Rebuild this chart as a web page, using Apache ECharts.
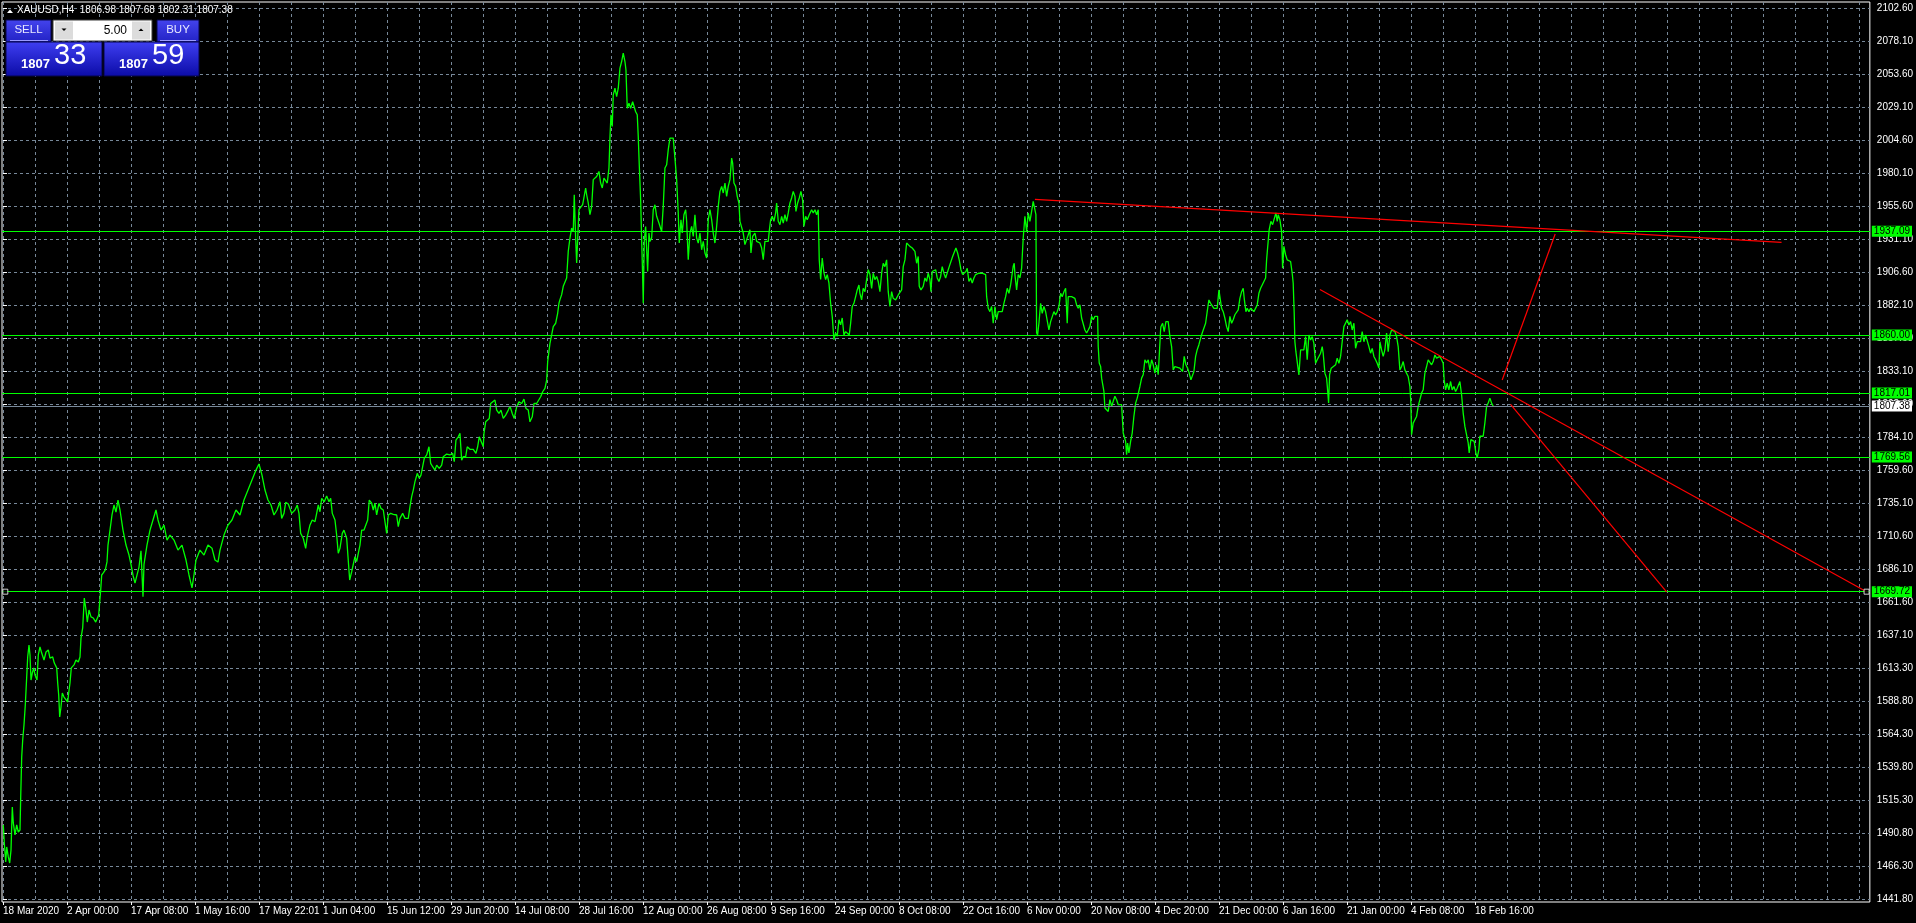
<!DOCTYPE html>
<html><head><meta charset="utf-8">
<script src="https://cdn.jsdelivr.net/npm/echarts@6/dist/echarts.min.js"></script>
<style>html,body{margin:0;padding:0;background:#000;overflow:hidden}#c{width:1916px;height:923px;}</style>
</head><body><div id="c"></div>
<script>
// ---- data ----
const symbolTitle = 'XAUUSD,H4  1806.98 1807.68 1802.31 1807.38';
const timeLabels = ['18 Mar 2020','2 Apr 00:00','17 Apr 08:00','1 May 16:00','17 May 22:01','1 Jun 04:00','15 Jun 12:00','29 Jun 20:00','14 Jul 08:00','28 Jul 16:00','12 Aug 00:00','26 Aug 08:00','9 Sep 16:00','24 Sep 00:00','8 Oct 08:00','22 Oct 16:00','6 Nov 00:00','20 Nov 08:00','4 Dec 20:00','21 Dec 00:00','6 Jan 16:00','21 Jan 00:00','4 Feb 08:00','18 Feb 16:00'];
const timeLabelBars = [0,64,128,192,256,320,384,448,512,576,640,704,768,832,896,960,1024,1088,1152,1216,1280,1344,1408,1472];
const gridBars = [0,32,64,96,128,160,192,224,256,288,320,352,384,416,448,480,512,544,576,608,640,672,704,736,768,800,832,864,896,928,960,992,1024,1056,1088,1120,1152,1184,1216,1248,1280,1312,1344,1376,1408,1440,1472,1504,1536,1568,1600,1632,1664,1696,1728,1760,1792,1824,1856];
const priceTicks = [2102.6,2078.1,2053.6,2029.1,2004.6,1980.1,1955.6,1931.1,1906.6,1882.1,1857.6,1833.1,1808.6,1784.1,1759.6,1735.1,1710.6,1686.1,1661.6,1637.1,1613.3,1588.8,1564.3,1539.8,1515.3,1490.8,1466.3,1441.8];
const priceMin = 1439.58, priceMax = 2107.05;
const barMin = -1, barMax = 1867;

// close prices, [bar, close]
const closeSeries = [
[0.3,1496.7],[1.3,1483.3],[2.7,1469.2],[3.7,1480.4],[5.3,1473],[6.7,1468.5],[8,1478.1],[9.3,1510],[10.3,1498.2],[12,1489.3],[13.7,1496.7],[15.3,1491.5],[17,1493],[17.7,1517.4],[18.7,1547.1],[19.7,1559.7],[21,1570.8],[22.3,1585.7],[23.7,1606.4],[24.7,1621.3],[26,1630.2],[27,1622.8],[28,1604.2],[29.3,1609.4],[30.7,1613.2],[32,1608],[34,1604.2],[35.3,1622.8],[37,1628.7],[38.7,1624.2],[41,1619],[43,1625],[45.3,1626.5],[47,1620.5],[49.7,1621.3],[51.3,1616.8],[53.7,1613.2],[54.7,1602],[55.7,1593.1],[56.7,1576.8],[58,1584.2],[59.3,1594.6],[61,1591.6],[62.7,1590.9],[64.7,1587.9],[65.7,1594.6],[67,1602],[68.3,1613.2],[71,1615.4],[73,1619],[75.3,1617.6],[77,1621.3],[78,1635.4],[79.7,1642.8],[81.3,1665],[83,1656.1],[84.3,1647.2],[86,1656.1],[88,1651],[90.3,1650.2],[92.7,1647.2],[94.3,1646.5],[95.7,1652.4],[96.7,1662.1],[97.7,1671],[98.7,1682.1],[100.3,1683.6],[102.3,1685.9],[104,1691.8],
[105,1704.3],[107,1715.4],[109,1726.6],[111,1734],[113,1728.8],[115,1737.7],[117,1730.3],[120,1715.4],[123,1704.3],[126,1696.9],[128,1690],[130,1682],[132,1676],[134,1675],[136,1688],[138,1700],[140,1666],[141,1690],[144,1704.3],[147,1715.4],[150,1722.9],[153,1730.3],[155,1722.9],[158,1715.4],[161,1719.1],[164,1708],[167,1711.7],[171,1708],[175,1700.6],[179,1704.3],[183,1693.2],[186,1682.1],[189,1672.5],[191,1682.1],[193,1693.2],[197,1700.6],[201,1696.9],[205,1704.3],[209,1702],[212,1693.2],[215,1691.7],[217,1700.6],[221,1711.7],[225,1719.1],[229,1722.9],[233,1730.3],[237,1726.6],[241,1737.7],[245,1745.1],[249,1752.5],[253,1759.9],[256,1764.4],[259,1756.2],[262,1745.1],[265,1737.7],[268,1734],[271,1726.6],[274,1730.3],
[277,1736.4],[278.7,1724.1],[281,1727.8],[282.7,1736],[285.3,1734.7],[288.7,1727.8],[292,1730.3],[294.3,1734],[296,1727.8],[297.7,1713],[300.3,1709.3],[302.7,1701.9],[304.3,1710.5],[307,1719.2],[309.3,1722.9],[312,1721.6],[313.7,1727.8],[315.3,1734],[317,1729],[318.7,1739],[321.3,1736.4],[323.7,1740.7],[326,1736.4],[327.7,1739],[329.3,1727.8],[332,1722.9],[333.7,1711.7],[335.3,1698.2],[337,1701.9],[339.3,1713],[341,1715.4],[343.7,1709.3],[345.3,1708],[346.7,1678.4],[348.7,1684.5],[350.3,1683.3],[352,1695.7],[353.7,1692],[355.3,1698.2],[357,1704.3],[358.7,1715.4],[361,1715.4],[363,1716.7],[364.7,1722.9],[366.3,1737.7],[368.7,1735.3],[370.3,1730.3],[372,1735.3],[373.7,1726.6],[376,1735.3],[378,1731.5],[380.3,1730.3],[382,1731.5],[383.7,1713],[385.3,1726.6],[387.7,1727.8],[390.3,1727.1],[393.7,1726.6],[395.3,1717.9],[397,1724.1],[399.7,1727.8],[402,1724.1],[405.3,1724.1],[407,1732.8],[408.7,1740.2],[410.3,1745.1],[412,1751.3],[414.3,1757.5],[416.3,1753.8],[418,1756.2],[419.7,1762.4],[421.3,1768.6],[423.7,1771.1],[426,1777.2],[427.7,1764.9],[429.7,1762.4],[432,1759.9],[433.7,1763.6],[436.3,1761.2],[438.7,1763.6],[440.3,1769.8],[443.7,1771.8],[447,1771.1],[449.7,1772.3],[451.3,1766.1],[453,1782.2],[455.3,1784.6],[457,1787.1],[458.7,1767.3],[460.3,1769.8],[462.7,1769.8],[464.3,1777.2],[467,1775.3],[470.3,1775.3],[473,1772.3],[474.7,1777.2],[476.3,1784.6],[478,1785.9],[480.3,1777.2],[481,1787.1],[482.7,1795.7],[484.7,1794.5],[486.3,1798.2],[487.7,1809.3],[489.7,1808.1],[492,1811.8],[493.7,1804.4],[496,1801.9],[498,1804.4],[500.3,1798.2],[502.7,1800.7],[505.3,1804.4],[507,1807.3],[509.3,1801.9],[511.3,1798.2],[513.7,1806.8],[516,1810.5],[518.7,1809.3],[521,1812.5],[523,1805.6],[525.3,1804.4],[527,1795.7],[529.3,1799.4],[531,1809.3],[533.7,1809.3],[535.7,1808.1],[537.7,1814.3],[539.7,1818],[542,1820.5],[543.7,1826.7],[544.7,1840.3],[547,1853.9],[548.7,1860.1],[550.3,1866.3],[552.7,1868.8],[554.7,1876.2],[556,1883.6],
[557,1886.3],[558.7,1890],[560.3,1896.2],[562,1897.4],[563.7,1902.4],[565.3,1922.1],[567,1932],[568.7,1939.4],[570.3,1936.9],[571.3,1964.1],[572.7,1932],[573.7,1913.5],[574.7,1930.8],[576,1953],[577.7,1954.3],[579.7,1956.7],[581.3,1958],[582.7,1969.1],[583.7,1964.1],[585.3,1958],[587,1949.3],[588.7,1955.5],[590.3,1975.3],[592,1974],[593.7,1977.7],[596,1981.4],[597.7,1972.8],[599.3,1969.1],[601,1976.5],[602.7,1975.3],[604.3,1972.8],[606,1983.9],[607,2006.1],[608,2023.4],[609.3,2014.7],[610.3,2038.2],[612,2043.1],[613.7,2036.9],[615.3,2043.1],[617,2058],[618.7,2062.9],[620.3,2069.1],[622,2062.9],[623,2056.7],[624.3,2028.3],[626,2032],[627.7,2028.3],[629.7,2033.1],[631,2034.4],[632.7,2025.7],[634.3,2023.4],[635.3,2007.3],[636.3,1986.3],[637.7,1960.3],[638.7,1930.8],[639.7,1903.5],[640.3,1883.6],[641.3,1929.5],[642.7,1940.6],[643.7,1923.3],[644.7,1907.2],[646,1935.7],[647,1929.5],[648.7,1932],[650.3,1953],[652,1956.7],[653.7,1948.1],[656,1943.1],[657.7,1944.4],[658.7,1936.9],[660.3,1955.5],[662,1983.9],[663.7,1986.3],[665.3,1997.5],[667,2006.1],[668.7,2004.9],[670.3,2006.1],[672,1991.3],[673.7,1975.3],[675.3,1950.6],[676.3,1928.3],[678,1945.6],[679.3,1935.7],[681,1949.3],[682.7,1953],[683.7,1944.4],[685.3,1916],[687,1935.7],[688.7,1940.6],[690.3,1933.2],[692,1949.3],[693.7,1932],[695.3,1928.3],[697,1935.7],[698.7,1923.3],[700.3,1929.5],[702,1920.9],[703.7,1917.2],[705.3,1945.6],[707,1953],[708.7,1945.6],[710.3,1935.7],[712,1928.3],[713.7,1940.6],[715.3,1955.5],[717,1966.6],[718.7,1970.3],[720.3,1965.4],[722,1972.8],[723.7,1962.9],[725.3,1970.3],[727,1975.3],[728.7,1991.3],[729.7,1987.6],[731,1972.8],[732.7,1970.3],[734.3,1962.9],[736,1958],[737,1944.4],[738.7,1944.4],[740.3,1935.7],[742,1927.1],[743.7,1930.8],[745.3,1932],[747,1938.2],[748,1920.9],[749.7,1933.2],[752,1935.7],[753.7,1929.5],[755.3,1930.8],[757,1928.3],[758.7,1924.6],[760.3,1916],[762,1929.5],[763.7,1930.8],[765.3,1929.5],[766.3,1936.9],[767.7,1945.6],[769.3,1948.1],[771,1944.4],[772.7,1950.6],[773.7,1958],[775.3,1944.4],[777,1941.9],[778.7,1948.1],[780.3,1943.1],[782,1949.3],[783.7,1944.4],[785.3,1950.6],[787,1958],[788.7,1961.7],[790.3,1966.6],[792,1962.9],[793,1951.8],[794.7,1958],[796.3,1961.7],[798,1966.6],[799.7,1960.3],[801,1940.6],[802.7,1948.1],[804.3,1945.6],[806.3,1949.3],[808.7,1953],[810.3,1950.6],[812,1953],[813.7,1949.3],[815.3,1953],[816.3,1916],[817.7,1901.2],[819.3,1917.2],[821,1906.1],[822.7,1901.2],[824.3,1904.9],[826,1898.7],[827.7,1883.6],[829.3,1873.9],[831,1856.6],[832.7,1861.6],[834.3,1859.1],[836,1871.4],[837.7,1867.7],[839.3,1872.7],[841,1860.1],[842.7,1862.6],[844.7,1861.3],[846.3,1860.1],[847.7,1868.8],[849.3,1881.2],[851,1883.6],[852.7,1888.5],[854.3,1893.5],[856,1897.2],
[857,1891],[858.7,1886.1],[860.3,1894.7],[862,1892.2],[863.7,1901.2],[865.3,1908.5],[867,1904.9],[868.7,1894.7],[870.3,1905.9],[872,1901.2],[873.7,1903.5],[875.3,1899.8],[877,1892.2],[878.7,1905.9],[880.3,1913.3],[882,1910.8],[883.7,1915.8],[885.3,1892.2],[887,1881.2],[888.7,1892.2],[890.3,1887.3],[892.7,1886.1],[895.3,1889.8],[897,1888.5],[898.7,1893.5],[900.3,1910.8],[902,1915.8],[903.7,1928.3],[905.3,1929.5],[907,1925.8],[909.3,1924.6],[912,1922.1],[913.7,1913.3],[915.3,1918.3],[916.3,1896.2],[918,1893.5],[920.3,1896.2],[922,1902.4],[923.7,1899.8],[925.3,1905.9],[927,1901.2],[928,1892.2],[929.3,1907.2],[931,1908.5],[932.7,1908.5],[934.3,1902.4],[936,1899.8],[937.7,1903.5],[939.3,1910.8],[941,1905.9],[942.7,1902.4],[944.3,1903.5],[946.3,1910.8],[948,1909.6],[949.7,1918.3],[951.3,1919.6],[953,1924.6],[954.7,1920.9],[956.3,1915.8],[958,1908.5],[959.7,1904.9],[961.3,1904.9],[963,1907.2],[964.3,1909.6],[966,1899.8],[967.7,1902.4],[969.3,1898.7],[971,1902.4],[972.7,1904.9],[974.3,1903.5],[976,1905.9],[977.7,1907.2],[979.3,1905.9],[981,1907.2],[982.7,1904.9],[983.7,1888.5],[985.3,1879.9],[987,1877.4],[988.7,1881.2],[990.3,1868.8],[992,1881.2],[993.7,1871.4],[995.3,1877.4],[997,1878.7],[999.3,1877.4],[1001,1883.6],[1002.7,1888.5],[1004.3,1894.7],[1006,1891],[1007.7,1897.2],[1008.7,1902.4],[1010.3,1911.1],[1011.3,1913.3],[1012,1904.9],[1013.7,1893.5],[1015.3,1904.9],[1017,1902.4],[1018.7,1909.6],[1020.3,1932],[1022,1948.1],[1023.7,1936.9],[1025.3,1950.6],[1027,1944.4],[1028.7,1951.8],[1030.3,1959.2],[1032,1960.5],[1033,1949.3],[1033.7,1861.6],[1034.7,1860.1],[1036,1868.8],[1037.7,1883.6],[1039.3,1876.2],[1041,1881.2],[1042.7,1877.4],[1044.3,1878.7],[1046,1863.8],[1047.7,1870],[1049.3,1868.8],[1051,1877.4],[1052.7,1874.9],[1054.3,1877.4],[1056,1881.2],[1057.7,1891],[1059.3,1888.5],[1061,1892.2],[1062.7,1894.7],[1064.3,1868.8],[1065.3,1888.5],[1067,1889.8],[1068.7,1888.5],[1070.3,1889.8],[1072,1887.3],[1073.7,1882.4],[1075.3,1879.9],[1077,1882.4],[1078.7,1872.7],[1080.3,1871.4],[1082,1863.8],[1083.7,1861.6],[1085.3,1863.8],[1087,1866.3],[1088.7,1873.9],[1090.3,1871.4],[1092,1873.9],[1093.7,1875.1],[1094.7,1873.9],[1095.3,1851.5],[1096.3,1839.3],[1097.7,1836.8],[1098.7,1828.1],[1099.7,1826.8],[1101,1818.2],[1102,1805.9],[1103.7,1807.1],[1105.3,1803.4],[1107,1812.1],[1108.7,1807.1],[1110.3,1810.9],[1112,1814.6],[1113.7,1812.1],[1115.3,1808.4],[1117,1809.6],[1118.7,1808.4],[1120.3,1787.4],[1121.3,1786.2],[1122.7,1781.2],[1123.7,1771.4],[1124.7,1780],[1126,1772.6],[1127.7,1781.2],[1129.3,1787.4],[1131,1799.8],[1132.7,1809.6],[1134.3,1813.3],[1136,1813.3],[1137,1821.9],[1138.7,1828.1],[1140.3,1830.6],[1142,1841.7],[1143.7,1839.3],[1145.3,1841.7],[1147,1834.2],[1148.7,1841.7],[1150.3,1838],[1152,1831.9],[1153.7,1838],[1155.3,1830.6],[1156.3,1844.2],[1157.7,1864],
[1158,1866.2],[1159.7,1868.8],[1161.3,1862.6],[1163,1870],[1165.3,1870],[1167,1858.9],[1168.7,1851.5],[1170.3,1834.2],[1172,1836.7],[1173.7,1835.5],[1177,1835.5],[1178.7,1836.7],[1179.7,1833],[1181.3,1844.2],[1183,1838],[1184.7,1835.5],[1186.3,1831.8],[1188,1826.8],[1189.3,1825.6],[1191,1833],[1192.7,1844.2],[1194.3,1849.2],[1196,1852.9],[1197.7,1857.8],[1199.3,1861.6],[1201,1862.8],[1202.7,1868.8],[1204.3,1877.4],[1206,1886.1],[1207.7,1883.6],[1209.3,1884.8],[1211,1879.9],[1212.7,1881.2],[1214.3,1879.9],[1216,1893.5],[1217.7,1894.7],[1218.7,1879.9],[1220.3,1877.4],[1222,1872.5],[1223.7,1866.3],[1225.3,1862.6],[1227,1873.9],[1228.7,1868.8],[1230.3,1871.4],[1232,1875.1],[1233.7,1876.2],[1235.3,1878.7],[1237,1887.3],[1238.7,1892.2],[1240.3,1894.7],[1241.3,1887.3],[1243,1877.4],[1244.3,1879.9],[1246,1877.4],[1247.7,1879.9],[1249.3,1878.7],[1251,1877.4],[1252.7,1878.7],[1254.3,1882.4],[1256,1891],[1257.7,1894.7],[1259.3,1897.2],[1261,1898.5],[1262.7,1902.4],[1263.7,1915.8],[1264.7,1924.6],[1266.3,1938.2],[1268,1944.4],[1269.7,1941.9],[1271.3,1940.6],[1273,1950.6],[1274.3,1944.4],[1275.3,1949.3],[1277,1945.6],[1278,1946.8],[1278.7,1936.9],[1279.7,1909.6],[1281,1925.8],[1282.7,1919.6],[1284.3,1915.8],[1286,1917.1],[1287.7,1914.6],[1289.3,1905.9],[1290.3,1898.5],[1291.3,1876.2],[1292,1855.1],[1293,1847.7],[1294.7,1849],[1296,1830.5],[1297.7,1849],[1299.3,1847.7],[1301,1849],[1302.7,1858.9],[1304.3,1841.7],[1306,1860.1],[1307.7,1856.4],[1309.3,1858.9],[1311,1853.9],[1312.7,1839.1],[1314.3,1841.7],[1316,1842.9],[1317.7,1846.6],[1319.3,1851.5],[1320.3,1846.6],[1322,1831.8],[1323.7,1828.1],[1324.7,1819.4],[1325.7,1809.6],[1326.7,1830.5],[1328.3,1835.5],[1330.3,1836.7],[1332.7,1838],[1334.3,1842.9],[1336,1839.1],[1337.7,1844.2],[1339.3,1855.1],[1341,1866.3],[1342.7,1867.5],[1344.3,1871.4],[1346,1867.5],[1347.7,1870],[1349.3,1863.8],[1351,1868.8],[1352.7,1850.2],[1354.3,1855.1],[1356,1856.4],[1357.7,1855.1],[1359.3,1862.6],[1361,1855.1],[1362.7,1860.1],[1364.3,1858.9],[1366,1851.5],[1367.7,1846.6],[1369.3,1850.2],[1371,1844.2],[1372.7,1841.7],[1374.3,1839.1],[1376,1835.5],[1377,1855.1],[1378.7,1849],[1380.3,1844.2],[1382,1849],[1383.7,1861.6],[1385.3,1847.7],[1387,1860.1],[1388.7,1863.8],[1390.3,1862.6],[1392,1862.6],[1393.7,1858.9],[1395.3,1851.5],[1397,1834.2],[1398.7,1836.7],[1400.3,1840.4],[1402,1834.2],[1403.7,1834.2],[1405.3,1829.3],[1407,1821.9],[1408,1809.6],[1408.7,1786.1],[1410.3,1794.7],[1412,1797.2],[1413.7,1799.7],[1415.3,1807.1],[1417,1812.1],[1418.7,1817],[1420.3,1819.5],[1422,1831.8],[1423.7,1836.7],[1425.3,1841.7],[1427,1842.9],[1428.7,1838],[1430.3,1840.4],[1432,1845.3],[1433.7,1842.9],[1435.3,1841.7],[1437,1844.2],[1438.7,1841.7],[1440.3,1839.1],[1441.3,1826.8],[1442.7,1819.4],[1444.3,1824.3],[1446,1819.4],[1447.7,1825.6],[1449.3,1819.4],[1451,1821.9],[1452.7,1818.2],[1454.3,1820.6],[1456,1819.4],[1457,1825.6],[1458.7,1815.8],[1460.3,1802.2],[1462,1792.3],[1463.7,1791.1],[1465.3,1780],[1466.3,1772.6],[1468,1782.5],[1469.7,1783.7],[1471.3,1781.2],[1473,1772.6],[1474.3,1768.9],[1476,1775.1],[1477,1785],[1478.7,1783.7],[1480.3,1785],[1482,1794.9],[1483.7,1807.1],[1485.3,1809.6],[1487,1813.3],[1488.7,1809.6],[1490.3,1807.38]
];

// horizontal levels and current bid
const levelPrices = [1937.09, 1860.00, 1817.01, 1769.56, 1669.72];
const bidPrice = 1807.38;

// trend lines, [bar, price] end points
const trendTop = [[1032,1960.7],[1778.7,1928.8]];
const trendDown = [[1317,1893.9],[1863.7,1669.72]];
const trendUp = [[1499.3,1826.7],[1552.3,1935.0]];
const trendSteep = [[1507.7,1808.7],[1663.7,1669.5]];
const anchorPoints = [[2.3,1669.72],[1863.7,1669.72]];

// one-click trading panel
const sellPrice = ['1807','33'];
const buyPrice = ['1807','59'];
const lotSize = '5.00';

// ---- chart ----
const FONT = "'Liberation Sans',Arial,sans-serif";
const FS = 10;
const chart = echarts.init(document.getElementById('c'), null, {renderer:'canvas'});
const redLine = (d) => ({type:'line', data:d, showSymbol:false, symbol:'none', silent:true,
  lineStyle:{color:'#ff0000', width:1.2}, z:5, animation:false});

const G = echarts.graphic;
const blueGrad = () => new G.LinearGradient(0,0,0,1,[{offset:0,color:'#3f3ff2'},{offset:1,color:'#0b0ba6'}]);
const btnGrad = () => new G.LinearGradient(0,0,0,1,[{offset:0,color:'#4444ee'},{offset:1,color:'#2222c4'}]);
const panel = [
  {type:'polygon', shape:{points:[[7,13],[10,9.5],[13,13]]}, style:{fill:'#fff'}},
  {type:'text', x:17, y:10.5, style:{text:symbolTitle, fill:'#fff', font:'10px '+FONT, verticalAlign:'middle'}},
  // SELL button
  {type:'rect', shape:{x:6,y:20,width:45,height:22}, style:{fill:btnGrad(), stroke:'#06064a', lineWidth:1}},
  {type:'text', x:28.5, y:30, style:{text:'SELL', fill:'#e8e8ff', font:'11.5px '+FONT, align:'center', verticalAlign:'middle'}},
  {type:'line', shape:{x1:10,y1:40.5,x2:48,y2:40.5}, style:{stroke:'#9a9aff', lineWidth:1}},
  // lot field
  {type:'rect', shape:{x:53,y:20,width:99,height:21}, style:{fill:'#ffffff', stroke:'#3a3a3a', lineWidth:1}},
  {type:'rect', shape:{x:55,y:21.5,width:18,height:18}, style:{fill:'#dcdcdc'}},
  {type:'rect', shape:{x:132,y:21.5,width:18,height:18}, style:{fill:'#dcdcdc'}},
  {type:'polygon', shape:{points:[[61.5,28.5],[66.5,28.5],[64,31]]}, style:{fill:'#000'}},
  {type:'polygon', shape:{points:[[138.5,31],[143.5,31],[141,28.5]]}, style:{fill:'#000'}},
  {type:'text', x:127, y:30.5, style:{text:lotSize, fill:'#000', font:'12px '+FONT, align:'right', verticalAlign:'middle'}},
  // BUY button
  {type:'rect', shape:{x:157,y:20,width:42,height:22}, style:{fill:btnGrad(), stroke:'#06064a', lineWidth:1}},
  {type:'text', x:178, y:30, style:{text:'BUY', fill:'#e8e8ff', font:'11.5px '+FONT, align:'center', verticalAlign:'middle'}},
  {type:'line', shape:{x1:160,y1:40.5,x2:196,y2:40.5}, style:{stroke:'#9a9aff', lineWidth:1}},
  // price boxes
  {type:'rect', shape:{x:6,y:42,width:96,height:34}, style:{fill:blueGrad(), stroke:'#06064a', lineWidth:1}},
  {type:'rect', shape:{x:104,y:42,width:95,height:34}, style:{fill:blueGrad(), stroke:'#06064a', lineWidth:1}},
  {type:'text', x:50, y:71, style:{text:sellPrice[0], fill:'#fff', font:'bold 13px '+FONT, align:'right', verticalAlign:'bottom'}},
  {type:'text', x:54, y:70, style:{text:sellPrice[1], fill:'#fff', font:'29px '+FONT, align:'left', verticalAlign:'bottom'}},
  {type:'text', x:148, y:71, style:{text:buyPrice[0], fill:'#fff', font:'bold 13px '+FONT, align:'right', verticalAlign:'bottom'}},
  {type:'text', x:152, y:70, style:{text:buyPrice[1], fill:'#fff', font:'29px '+FONT, align:'left', verticalAlign:'bottom'}}
].map(e => Object.assign({z:100, silent:true}, e));

const levelLines = levelPrices.map(v => ({
  yAxis: v,
  lineStyle:{color:'#00ff00', width:1, type:'solid'},
  label:{show:true, position:'end', distance:2, formatter: () => v.toFixed(2),
         color:'#000', backgroundColor:'#00ff00', padding:[1,2,0,2], fontSize:FS, fontFamily:FONT}
}));
levelLines.push({
  yAxis: bidPrice,
  lineStyle:{color:'#778899', width:1, type:'solid'},
  label:{show:true, position:'end', distance:2, formatter: () => bidPrice.toFixed(2),
         color:'#000', backgroundColor:'#ffffff', padding:[1,2,0,2], fontSize:FS, fontFamily:FONT}
});

chart.setOption({
  animation:false,
  backgroundColor:'#000',
  grid:{left:2, right:46, top:2, bottom:21, show:true, borderColor:'#ffffff', borderWidth:1, backgroundColor:'#000'},
  xAxis:[{
    type:'value', min:barMin, max:barMax, position:'bottom',
    axisLine:{show:false},
    axisTick:{show:false, customValues:gridBars},
    axisLabel:{show:false},
    splitLine:{show:true, lineStyle:{color:'#778899', width:1, type:[3,3]}}
  },{
    type:'value', min:barMin, max:barMax, position:'bottom', offset:0,
    axisLine:{show:false},
    axisTick:{show:true, customValues:timeLabelBars, length:3, lineStyle:{color:'#fff'}},
    axisLabel:{show:true, customValues:timeLabelBars, color:'#fff', fontSize:FS, fontFamily:FONT, align:'left', margin:4,
      formatter:(v)=> { const i = timeLabelBars.indexOf(Math.round(v)); return i>=0 ? timeLabels[i] : ''; }},
    splitLine:{show:false}
  }],
  yAxis:{
    type:'value', position:'right', min:priceMin, max:priceMax,
    axisLine:{show:false},
    axisTick:{show:true, customValues:priceTicks, length:4, lineStyle:{color:'#fff'}},
    axisLabel:{show:true, customValues:priceTicks, color:'#fff', fontSize:FS, fontFamily:FONT, margin:7,
      formatter:(v)=> v.toFixed(2)},
    splitLine:{show:true, lineStyle:{color:'#778899', width:1, type:[3,3]}}
  },
  series:[
    {type:'line', data:[], silent:true, clip:false, z:3,
      markLine:{silent:true, symbol:['none','none'], animation:false, data:levelLines}},
    {type:'line', data:closeSeries, showSymbol:false, symbol:'none', silent:true,
      lineStyle:{color:'#00ff00', width:1.3}, z:4},
    redLine(trendTop), redLine(trendDown), redLine(trendUp), redLine(trendSteep),
    {type:'scatter', data:anchorPoints, symbol:'rect', symbolSize:5, silent:true, z:6,
      itemStyle:{color:'#000', borderColor:'#fff', borderWidth:1}}
  ],
  graphic: panel
});
</script>
</body></html>
